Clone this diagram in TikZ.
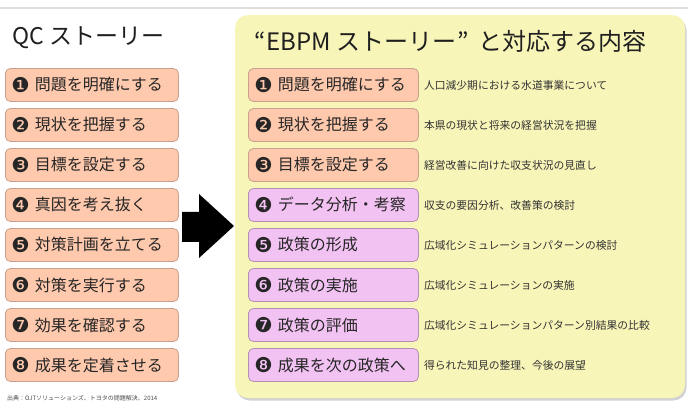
\documentclass[tikz,border=0pt]{standalone}
\usepackage{fontspec}
\setmainfont{Noto Sans CJK JP}
\newfontfamily\dvfont{DejaVu Sans}
\usetikzlibrary{shadows}
\definecolor{salfill}{HTML}{FFC9AD}
\definecolor{salline}{HTML}{C9A08C}
\definecolor{pinkfill}{HTML}{F2C2F2}
\definecolor{pinkline}{HTML}{B391B3}
\definecolor{panelfill}{HTML}{F8F5B9}
\definecolor{desccol}{HTML}{333333}
\tikzset{
  boxbase/.style={rounded corners=5pt, line width=0.8pt, minimum height=33pt,
    inner xsep=6pt, align=left, anchor=west, text=black!85,
    font=\fontsize{16}{18}\selectfont, text height=14pt, text depth=2pt},
  salbox/.style={boxbase, draw=salline, fill=salfill},
  pinkbox/.style={boxbase, draw=pinkline, fill=pinkfill},
  leftw/.style={text width=161pt},
  rightw/.style={text width=158pt},
  desc/.style={anchor=west, inner sep=0pt, text=desccol,
    font=\fontsize{10.8}{12}\selectfont},
  titletext/.style={anchor=west, inner sep=0pt, text=black!88}
}
\newcommand{\cnum}[1]{\raisebox{-1.3pt}{\fontsize{20.5}{22}\dvfont #1}\hspace{5pt}}
\begin{document}
\begin{tikzpicture}[x=1pt,y=-1pt]
\useasboundingbox (0,0) rectangle (688,406);
\fill[white] (0,0) rectangle (688,406);
\draw[black!13, line width=1.5pt] (0,8) -- (688,8);
% panel
\path[fill=panelfill, rounded corners=13pt,
  drop shadow={shadow xshift=1.5pt, shadow yshift=-2.5pt, opacity=0.35}]
  (235,15) rectangle (685,398);
% titles
\node[titletext, font=\fontsize{23}{26}\selectfont] (qctitle) at (12,38) {QC ストーリー};
\node[titletext, font=\fontsize{24}{26}\selectfont] (ebtitle) at (254,41) {“\hspace{1pt}EBPM ストーリー\hspace{1pt}”\hspace{10pt}と対応する内容};
% left boxes
\node[salbox, leftw] (l1) at (5,85)  {\cnum{❶}問題を明確にする};
\node[salbox, leftw] (l2) at (5,125) {\cnum{❷}現状を把握する};
\node[salbox, leftw] (l3) at (5,165) {\cnum{❸}目標を設定する};
\node[salbox, leftw] (l4) at (5,205) {\cnum{❹}真因を考え抜く};
\node[salbox, leftw] (l5) at (5,245) {\cnum{❺}対策計画を立てる};
\node[salbox, leftw] (l6) at (5,285) {\cnum{❻}対策を実行する};
\node[salbox, leftw] (l7) at (5,325) {\cnum{❼}効果を確認する};
\node[salbox, leftw] (l8) at (5,365) {\cnum{❽}成果を定着させる};
% right boxes
\node[salbox, rightw] (r1) at (248,85)  {\cnum{❶}問題を明確にする};
\node[salbox, rightw] (r2) at (248,125) {\cnum{❷}現状を把握する};
\node[salbox, rightw] (r3) at (248,165) {\cnum{❸}目標を設定する};
\node[pinkbox, rightw] (r4) at (248,205) {\cnum{❹}データ分析・考察};
\node[pinkbox, rightw] (r5) at (248,245) {\cnum{❺}政策の形成};
\node[pinkbox, rightw] (r6) at (248,285) {\cnum{❻}政策の実施};
\node[pinkbox, rightw] (r7) at (248,325) {\cnum{❼}政策の評価};
\node[pinkbox, rightw] (r8) at (248,365) {\cnum{❽}成果を次の政策へ};
% descriptions
\node[desc] (d1) at ([xshift=5pt]r1.east) {人口減少期における水道事業について};
\node[desc] (d2) at ([xshift=5pt]r2.east) {本県の現状と将来の経営状況を把握};
\node[desc] (d3) at ([xshift=5pt]r3.east) {経営改善に向けた収支状況の見直し};
\node[desc] (d4) at ([xshift=5pt]r4.east) {収支の要因分析、改善策の検討};
\node[desc] (d5) at ([xshift=5pt]r5.east) {広域化シミュレーションパターンの検討};
\node[desc] (d6) at ([xshift=5pt]r6.east) {広域化シミュレーションの実施};
\node[desc] (d7) at ([xshift=5pt]r7.east) {広域化シミュレーションパターン別結果の比較};
\node[desc] (d8) at ([xshift=5pt]r8.east) {得られた知見の整理、今後の展望};
% source
\node[anchor=west, inner sep=0pt, text=black!70, font=\fontsize{6}{7}\selectfont] (src) at (7,398) {出典：OJTソリューションズ、トヨタの問題解決、2014};
% arrow
\fill[black] (182,212) -- (199,212) -- (199,194) -- (234,226) -- (199,258) -- (199,242) -- (182,242) -- cycle;
\end{tikzpicture}
\end{document}
